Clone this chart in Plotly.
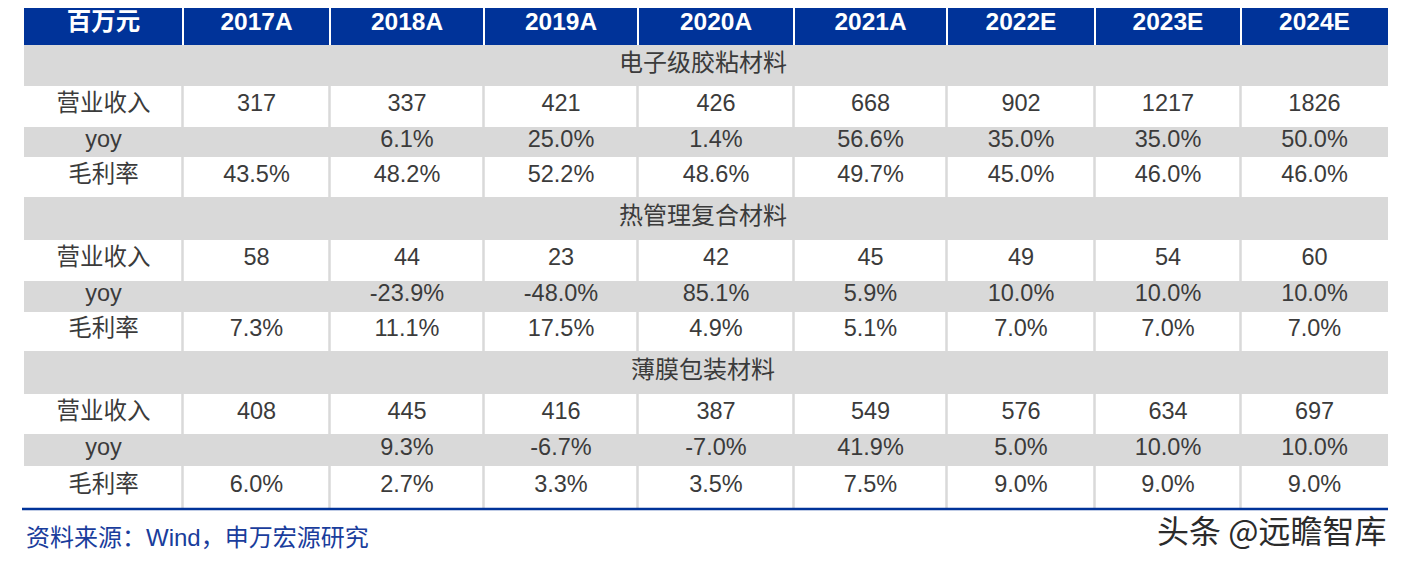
import plotly.graph_objects as go

# ---------------- data ----------------
unit_label = "百万元"
years = ["2017A", "2018A", "2019A", "2020A", "2021A", "2022E", "2023E", "2024E"]
segments = ["电子级胶粘材料", "热管理复合材料", "薄膜包装材料"]
row_labels = ["营业收入", "yoy", "毛利率"]

revenue_adhesive = [317, 337, 421, 426, 668, 902, 1217, 1826]
yoy_adhesive = [None, 6.1, 25.0, 1.4, 56.6, 35.0, 35.0, 50.0]
gm_adhesive = [43.5, 48.2, 52.2, 48.6, 49.7, 45.0, 46.0, 46.0]

revenue_thermal = [58, 44, 23, 42, 45, 49, 54, 60]
yoy_thermal = [None, -23.9, -48.0, 85.1, 5.9, 10.0, 10.0, 10.0]
gm_thermal = [7.3, 11.1, 17.5, 4.9, 5.1, 7.0, 7.0, 7.0]

revenue_film = [408, 445, 416, 387, 549, 576, 634, 697]
yoy_film = [None, 9.3, -6.7, -7.0, 41.9, 5.0, 10.0, 10.0]
gm_film = [6.0, 2.7, 3.3, 3.5, 7.5, 9.0, 9.0, 9.0]

source_text = "资料来源：Wind，申万宏源研究"
watermark_text = "头条 @远瞻智库"

# ---------------- layout constants ----------------
W, H = 1402, 562
PAGE_MARGIN = 8  # default body margin of the html page
COL_EDGES = [24, 183, 330, 484, 638, 794, 947, 1095, 1241, 1388]
HEADER_Y = (3, 45)
ROW_EDGES = [45, 86, 127, 157, 197, 240, 281, 312, 351, 394, 434, 466, 508]
BLUE = "#003399"
GRAY = "#D9D9D9"
TXT = "#3b3b3b"
FONT = "Liberation Sans, Arial, Noto Sans CJK SC, sans-serif"

seg_data = [
    (revenue_adhesive, yoy_adhesive, gm_adhesive),
    (revenue_thermal, yoy_thermal, gm_thermal),
    (revenue_film, yoy_film, gm_film),
]


def fmt_int(v):
    return "" if v is None else f"{v:d}"


def fmt_pct(v):
    return "" if v is None else f"{v:.1f}%"


col_centers = [(COL_EDGES[i] + COL_EDGES[i + 1]) / 2 for i in range(len(COL_EDGES) - 1)]
table_center = (COL_EDGES[0] + COL_EDGES[-1]) / 2

shapes = []
n_cols = len(COL_EDGES) - 1
for i in range(n_cols):
    x0 = COL_EDGES[i] + (1 if i > 0 else 0)
    x1 = COL_EDGES[i + 1] - (1 if i < n_cols - 1 else 0)
    shapes.append(dict(type="rect", xref="x", yref="y", x0=x0, x1=x1,
                       y0=HEADER_Y[0], y1=HEADER_Y[1], fillcolor=BLUE,
                       line=dict(width=0), layer="below"))

row_kinds = []
for r in range(len(ROW_EDGES) - 1):
    kind = {0: "section", 1: "white", 2: "gray", 3: "white"}[r % 4]
    row_kinds.append((kind, ROW_EDGES[r], ROW_EDGES[r + 1]))

for kind, y0, y1 in row_kinds:
    if kind in ("section", "gray"):
        shapes.append(dict(type="rect", xref="x", yref="y", x0=COL_EDGES[0], x1=COL_EDGES[-1],
                           y0=y0, y1=y1, fillcolor=GRAY, line=dict(width=0), layer="below"))
    else:
        for e in COL_EDGES[1:-1]:
            shapes.append(dict(type="line", xref="x", yref="y", x0=e - 0.5, x1=e - 0.5,
                               y0=y0, y1=y1, line=dict(color=GRAY, width=2.5), layer="below"))

shapes.append(dict(type="line", xref="x", yref="y", x0=COL_EDGES[0] - 2, x1=COL_EDGES[-1],
                   y0=ROW_EDGES[-1] + 1, y1=ROW_EDGES[-1] + 1, line=dict(color=BLUE, width=2.5)))

fig = go.Figure()

fig.add_trace(go.Scatter(
    x=col_centers, y=[(HEADER_Y[0] + HEADER_Y[1]) / 2] * n_cols,
    mode="text", text=[unit_label] + years,
    textfont=dict(family=FONT, size=24.5, color="white", weight="bold"),
    hoverinfo="skip", showlegend=False))

sec_y = [(row_kinds[i * 4][1] + row_kinds[i * 4][2]) / 2 - 1 for i in range(len(segments))]
fig.add_trace(go.Scatter(
    x=[table_center - 3] * len(segments), y=sec_y, mode="text", text=segments,
    textfont=dict(family=FONT, size=24, color=TXT),
    hoverinfo="skip", showlegend=False))

xs, ys, ts = [], [], []
for s, (rev, yoy, gm) in enumerate(seg_data):
    for j, (lab, vals, f) in enumerate(zip(row_labels, (rev, yoy, gm), (fmt_int, fmt_pct, fmt_pct))):
        kind, y0, y1 = row_kinds[s * 4 + 1 + j]
        yc = (y0 + y1) / 2 - 1
        xs.append(col_centers[0]); ys.append(yc); ts.append(lab)
        for c, v in enumerate(vals):
            xs.append(col_centers[c + 1]); ys.append(yc); ts.append(f(v))

fig.add_trace(go.Scatter(
    x=xs, y=ys, mode="text", text=ts,
    textfont=dict(family=FONT, size=23.5, color=TXT),
    hoverinfo="skip", showlegend=False))

fig.add_annotation(x=COL_EDGES[0], y=537, xref="x", yref="y", text=source_text,
                   showarrow=False, xanchor="left", yanchor="middle",
                   font=dict(family=FONT, size=24, color="#1a3d9c"))
fig.add_annotation(x=COL_EDGES[-1], y=529, xref="x", yref="y", text=watermark_text,
                   showarrow=False, xanchor="right", yanchor="middle",
                   font=dict(family="Noto Sans CJK SC, sans-serif", size=32, color="#2b2b2b"))

fig.update_layout(
    width=W - PAGE_MARGIN, height=H - PAGE_MARGIN, margin=dict(l=0, r=0, t=0, b=0),
    paper_bgcolor="white", plot_bgcolor="white",
    xaxis=dict(range=[PAGE_MARGIN, W], visible=False, fixedrange=True),
    yaxis=dict(range=[H, PAGE_MARGIN], visible=False, fixedrange=True),
    shapes=shapes,
)

fig.write_html("out.html")
